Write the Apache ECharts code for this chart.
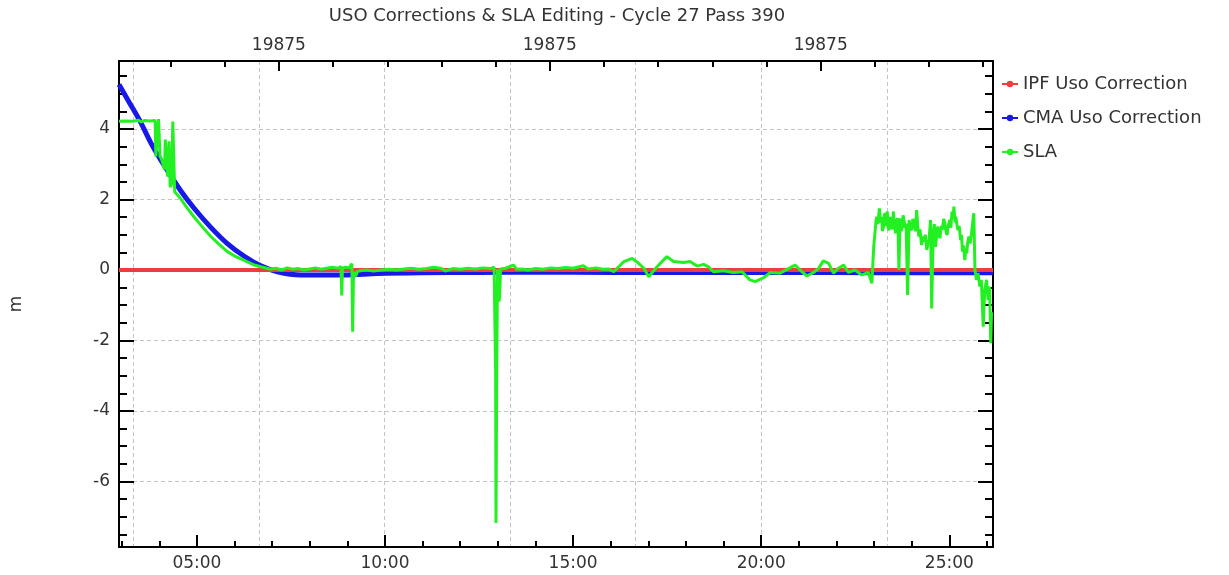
<!DOCTYPE html>
<html>
<head>
<meta charset="utf-8">
<script src="https://cdn.jsdelivr.net/npm/echarts@6/dist/echarts.min.js"></script>
<style>html,body{margin:0;padding:0;background:#fff}#c{width:1229px;height:575px}</style>
</head>
<body>
<div id="c"></div>
<script>
const chartTitle = 'USO Corrections & SLA Editing - Cycle 27 Pass 390';
const seriesNames = ['IPF Uso Correction', 'CMA Uso Correction', 'SLA'];
const yAxisName = 'm';
const xMin = 2.93, xMax = 26.16, yMin = -7.86, yMax = 5.93;

const bottomMajorTicks = [5, 10, 15, 20, 25];
const bottomMinorTicks = [3, 4, 6, 7, 8, 9, 11, 12, 13, 14, 16, 17, 18, 19, 21, 22, 23, 24, 26];
const topMajorTicks = [7.18, 14.38, 21.58];
const topTickLabels = ['19875', '19875', '19875'];
const topMinorTicks = [4.30, 5.74, 8.62, 10.06, 11.50, 12.94, 15.82, 17.26, 18.70, 20.14, 23.02, 24.46, 25.90];
const gridLineTicks = [3.32, 6.66, 9.99, 13.33, 16.66, 20.00, 23.34];
const yMajorTicks = [-6, -4, -2, 0, 2, 4];
const yMinorTicks = [-7.5, -7, -6.5, -5.5, -5, -4.5, -3.5, -3, -2.5, -1.5, -1, -0.5, 0.5, 1, 1.5, 2.5, 3, 3.5, 4.5, 5, 5.5];

const ipfTime = [2.93, 26.16];
const ipfValues = [0, 0];

const cmaTime = [2.93, 3.25, 3.51, 3.78, 4.04, 4.31, 4.57, 4.92, 5.37, 5.81, 6.26, 6.70, 7.14, 7.76, 8.90, 9.80, 10.95, 12.5, 14.0, 16.0, 18.0, 20.0, 22.0, 24.0, 26.16];
const cmaValues = [5.26, 4.67, 4.18, 3.60, 3.12, 2.67, 2.25, 1.76, 1.21, 0.75, 0.39, 0.12, -0.05, -0.14, -0.14, -0.10, -0.08, -0.07, -0.06, -0.07, -0.07, -0.07, -0.07, -0.08, -0.08];

const slaTime = [
  2.93, 3.10, 3.30, 3.45, 3.52, 3.60, 3.75, 3.89, 3.91, 3.96, 3.98, 4.01, 4.02, 4.06, 4.10, 4.14, 4.16, 4.19, 4.22, 4.26,
  4.29, 4.33, 4.36, 4.39, 4.41, 4.45, 4.55, 4.70, 4.92, 5.10, 5.37, 5.60, 5.81, 6.05, 6.26, 6.50, 6.70, 6.96, 7.10, 7.25,
  7.40, 7.55, 7.70, 7.85, 8.00, 8.15, 8.30, 8.45, 8.60, 8.75, 8.83, 8.85, 8.87, 8.95, 9.05, 9.12, 9.14, 9.16, 9.19, 9.22,
  9.27, 9.35, 9.50, 9.70, 9.90, 10.10, 10.30, 10.50, 10.70, 10.90, 11.10, 11.30, 11.50, 11.60, 11.80, 12.00, 12.20, 12.40, 12.60, 12.80,
  12.90, 12.94, 12.95, 12.97, 12.99, 13.03, 13.05, 13.07, 13.20, 13.42, 13.50, 13.65, 13.80, 14.00, 14.20, 14.40, 14.60, 14.80, 15.00, 15.27,
  15.40, 15.60, 15.80, 15.95, 16.08, 16.35, 16.57, 16.74, 16.88, 17.01, 17.23, 17.49, 17.67, 17.94, 18.11, 18.29, 18.47, 18.60, 18.73, 19.00,
  19.26, 19.49, 19.70, 19.84, 20.06, 20.24, 20.50, 20.72, 20.90, 21.08, 21.21, 21.39, 21.52, 21.65, 21.79, 21.92, 22.05, 22.19, 22.32, 22.49,
  22.67, 22.85, 22.94, 22.96, 22.99,
  23.03, 23.05, 23.07, 23.10, 23.14, 23.17, 23.20, 23.22, 23.25, 23.27, 23.29, 23.32, 23.35, 23.37, 23.40, 23.43, 23.47, 23.49, 23.51, 23.54,
  23.57, 23.60, 23.63, 23.66, 23.69, 23.72, 23.75, 23.77, 23.80, 23.83, 23.85, 23.89, 23.93, 23.96, 24.00, 24.03, 24.07, 24.10, 24.13, 24.16,
  24.19, 24.22, 24.26, 24.30, 24.33, 24.36, 24.40, 24.43, 24.46, 24.50, 24.53, 24.57, 24.60, 24.63, 24.66, 24.68, 24.72, 24.75, 24.78, 24.81,
  24.85, 24.88, 24.91, 24.94, 24.97, 25.01, 25.04, 25.07, 25.10, 25.12, 25.15, 25.17, 25.20, 25.23, 25.26, 25.30, 25.32, 25.35, 25.38, 25.41,
  25.44, 25.46, 25.49, 25.52, 25.55, 25.59, 25.62, 25.65, 25.68, 25.72, 25.76, 25.81, 25.85, 25.90, 25.94, 25.99, 26.03, 26.07, 26.10, 26.12
];
const slaValues = [
  4.22, 4.23, 4.22, 4.25, 4.20, 4.24, 4.23, 4.24, 3.22, 3.25, 4.28, 4.25, 3.22, 3.15, 3.00, 2.85, 3.70, 3.65, 2.65, 3.65,
  2.35, 2.45, 4.21, 4.21, 2.22, 2.20, 2.05, 1.82, 1.51, 1.28, 0.95, 0.72, 0.52, 0.37, 0.27, 0.15, 0.09, 0.02, 0.05, 0.00,
  0.06, 0.02, 0.04, 0.00, 0.03, 0.06, 0.02, 0.05, 0.08, 0.05, 0.10, -0.72, 0.05, 0.08, 0.06, 0.18, -1.75, -0.25, -0.05, -0.18,
  -0.04, -0.02, 0.00, -0.03, 0.00, 0.02, 0.00, 0.03, 0.05, 0.02, 0.04, 0.08, 0.04, -0.03, 0.04, 0.02, 0.05, 0.03, 0.06, 0.04,
  0.08, -2.88, -7.18, -2.90, 0.02, -0.90, -0.70, 0.03, 0.05, 0.14, 0.02, 0.03, 0.00, 0.04, 0.02, 0.06, 0.04, 0.07, 0.05, 0.12,
  0.03, 0.06, 0.02, 0.03, -0.05, 0.24, 0.33, 0.19, 0.05, -0.19, 0.09, 0.38, 0.24, 0.21, 0.24, 0.11, 0.16, 0.09, -0.05, -0.02,
  -0.07, -0.05, -0.28, -0.33, -0.22, -0.07, -0.09, 0.04, 0.14, -0.05, -0.17, -0.07, 0.04, 0.26, 0.19, -0.09, 0.05, 0.14, -0.07, 0.00,
  -0.14, -0.07, -0.38, 0.05, 0.66,
  1.13, 1.40, 1.51, 1.30, 1.75, 1.35, 1.51, 1.10, 1.23, 1.55, 1.61, 1.25, 1.66, 1.20, 1.13, 1.50, 1.42, 1.15, 1.66, 1.30,
  1.04, 1.40, 1.47, 0.00, 1.47, 1.10, 1.23, 1.55, 1.51, 1.20, 1.32, -0.71, 1.42, 1.20, 1.13, 1.45, 1.32, 1.10, 1.70, 1.25,
  0.95, 1.15, 0.71, 0.95, 0.80, 1.00, 0.57, 0.75, 0.85, 1.42, -1.09, 1.04, 1.30, 0.66, 0.95, 1.23, 1.05, 0.90, 1.25, 1.13,
  1.45, 1.32, 1.10, 0.99, 1.25, 1.42, 1.20, 1.66, 1.45, 1.80, 1.35, 1.51, 1.30, 1.13, 1.25, 0.85, 1.00, 0.52, 0.70, 0.28,
  0.60, 0.47, 0.80, 0.95, 0.75, 1.04, 1.35, 1.61, 0.00, -0.28, -0.09, -0.47, -0.28, -1.61, -0.57, -0.28, -0.85, -0.47, -2.08, -1.20
];

const FONT = 'DejaVu Sans';
const TXT = '#333333';
const RED = '#f03c3c', BLUE = '#1818e8', GREEN = '#22f022';
const pairs = (t, v) => t.map((x, i) => [x, v[i]]);
const pad2 = v => (v < 10 ? '0' : '') + v;
const black = { color: '#000', width: 2 };
const hiddenLine = { show: false, onZero: false };
const gridDash = { show: true, lineStyle: { color: '#c4c4c4', width: 1, type: [4, 3] } };

function xAxisDef(pos, ticks, len, label, split) {
  return {
    type: 'value', position: pos, min: xMin, max: xMax,
    axisLine: label ? { show: true, onZero: false, lineStyle: black } : hiddenLine,
    axisTick: { show: len > 0, inside: true, length: len, customValues: ticks, lineStyle: black },
    axisLabel: label ? Object.assign({ show: true, customValues: ticks, color: TXT, fontFamily: FONT, fontSize: 17 }, label) : { show: false },
    splitLine: split ? gridDash : { show: false }
  };
}
function yAxisDef(pos, ticks, len, label, split, named) {
  const a = {
    type: 'value', position: pos, min: yMin, max: yMax,
    axisLine: label !== null ? { show: true, onZero: false, lineStyle: black } : hiddenLine,
    axisTick: { show: true, inside: true, length: len, customValues: ticks, lineStyle: black },
    axisLabel: label ? Object.assign({ show: true, customValues: ticks, color: TXT, fontFamily: FONT, fontSize: 17, margin: 9 }, label) : { show: false },
    splitLine: split ? gridDash : { show: false }
  };
  if (named) {
    Object.assign(a, { name: yAxisName, nameLocation: 'middle', nameRotate: 90, nameGap: 94,
      nameTextStyle: { color: TXT, fontFamily: FONT, fontSize: 17 } });
  }
  return a;
}

const chart = echarts.init(document.getElementById('c'), null, { renderer: 'canvas' });
chart.setOption({
  animation: false,
  backgroundColor: '#fff',
  title: {
    text: chartTitle, left: 557, top: 7, padding: 0, textAlign: 'center',
    textStyle: { fontFamily: FONT, fontSize: 18, fontWeight: 'normal', color: TXT }
  },
  legend: {
    orient: 'vertical', left: 996, top: 70, itemWidth: 16, itemHeight: 8, itemGap: 16,
    data: seriesNames,
    textStyle: { fontFamily: FONT, fontSize: 18, color: TXT }
  },
  grid: { left: 118, right: 236, top: 61, bottom: 28 },
  xAxis: [
    xAxisDef('bottom', bottomMajorTicks, 12, { margin: 8, formatter: v => pad2(Math.round(v)) + ':00' }, false),
    xAxisDef('bottom', bottomMinorTicks, 6, null, false),
    xAxisDef('top', topMajorTicks, 10, { margin: 7, formatter: v => topTickLabels[topMajorTicks.indexOf(v)] || topTickLabels[0] }, false),
    xAxisDef('top', topMinorTicks, 6, null, false),
    xAxisDef('bottom', gridLineTicks, 0, null, true)
  ],
  yAxis: [
    yAxisDef('left', yMajorTicks, 15, {}, true, true),
    yAxisDef('left', yMinorTicks, 8, null, false, false),
    yAxisDef('right', yMajorTicks, 15, false, false, false),
    yAxisDef('right', yMinorTicks, 8, null, false, false)
  ],
  series: [
    { name: seriesNames[0], type: 'line', xAxisIndex: 0, yAxisIndex: 0, data: pairs(ipfTime, ipfValues),
      symbol: 'circle', symbolSize: 4, showSymbol: false, z: 3,
      lineStyle: { color: RED, width: 4 }, itemStyle: { color: RED } },
    { name: seriesNames[1], type: 'line', xAxisIndex: 0, yAxisIndex: 0, data: pairs(cmaTime, cmaValues),
      symbol: 'circle', symbolSize: 4, showSymbol: false, smooth: 0.3, z: 2,
      lineStyle: { color: BLUE, width: 5 }, itemStyle: { color: BLUE } },
    { name: seriesNames[2], type: 'line', xAxisIndex: 0, yAxisIndex: 0, data: pairs(slaTime, slaValues),
      symbol: 'circle', symbolSize: 4, showSymbol: false, z: 4,
      lineStyle: { color: GREEN, width: 3 }, itemStyle: { color: GREEN } }
  ]
});
</script>
</body>
</html>
